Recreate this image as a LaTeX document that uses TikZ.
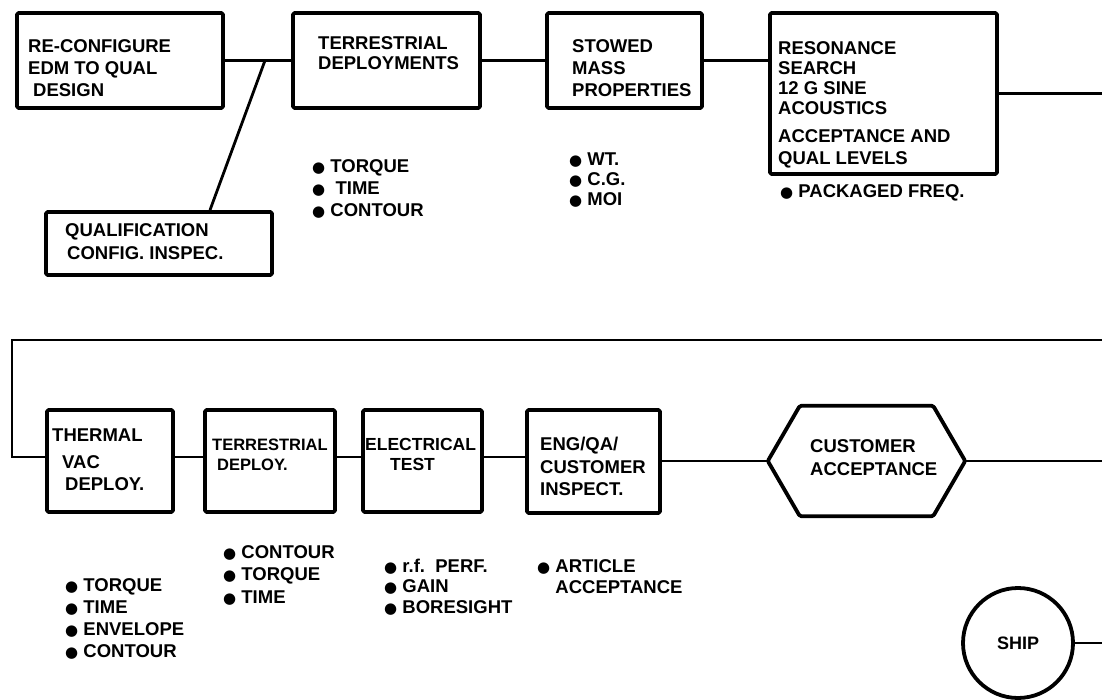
\documentclass[tikz,border=0pt]{standalone}
\usepackage{fontspec}
\setmainfont{Liberation Sans}
\newfontfamily\dvsfont{DejaVu Sans}
\newcommand\bul{{\dvsfont\fontsize{15}{15}\selectfont ●}}
\begin{document}
\begin{tikzpicture}[x=1pt,y=-1pt,
  box/.style={draw, line width=3.8pt, inner sep=0pt, rounded corners=1.5pt, line join=round},
  conn/.style={line width=2.8pt},
  txt/.style={font=\bfseries\fontsize{18.5}{22}\selectfont, align=left, inner sep=0pt, anchor=base west},
  smalltxt/.style={txt, font=\bfseries\fontsize{16.5}{20}\selectfont},
]
\useasboundingbox (0,0) rectangle (1102,700);
% boxes
\node[box, minimum width=206pt, minimum height=95pt] (b1) at (120,60.5) {};
\node[box, minimum width=187pt, minimum height=95pt] (b2) at (386.5,60.5) {};
\node[box, minimum width=155pt, minimum height=95pt] (b3) at (624.5,60.5) {};
\node[box, minimum width=227pt, minimum height=161pt] (b4) at (883.5,93.5) {};
\node[box, minimum width=226pt, minimum height=63pt] (q) at (159,243.5) {};
\node[box, minimum width=126pt, minimum height=102pt] (tv) at (110,461) {};
\node[box, minimum width=130pt, minimum height=102pt] (td) at (270,461) {};
\node[box, minimum width=119pt, minimum height=102pt] (et) at (422.5,461) {};
\node[box, minimum width=133pt, minimum height=103pt] (eq) at (593.5,461.5) {};
\node[minimum width=197pt, minimum height=110pt, inner sep=0pt] (hx) at (866.5,461) {};
\draw[box] (hx.west) -- ([xshift=32pt]hx.north west) -- ([xshift=-32pt]hx.north east) -- (hx.east) -- ([xshift=-32pt]hx.south east) -- ([xshift=32pt]hx.south west) -- cycle;
\node[box, circle, minimum size=110pt, font=\bfseries\fontsize{18}{22}\selectfont] (sh) at (1018,643) {SHIP};
% coordinates
\coordinate (j) at (265,60.5);
\coordinate (r1) at (1102,93.5);
\coordinate (r2) at (1102,340);
\coordinate (l1) at (12,340);
\coordinate (l2) at (12,457);
\coordinate (row) at (0,457);
\coordinate (r3) at (1102,461);
\coordinate (r4) at (1102,643);
% connectors
\draw[conn] (b1) -- (b2);
\draw[conn] (b2) -- (b3);
\draw[conn] (b3.east) -- (b3.east -| b4.west);
\draw[conn] (j) -- ([xshift=51pt]q.north);
\draw[conn] (b4.east) -- (r1);
\draw[conn, line join=miter] (r2) -- (l1) -- (l2) -- (l2 -| tv.west);
\draw[conn] (tv.east |- row) -- (td.west |- row);
\draw[conn] (td.east |- row) -- (et.west |- row);
\draw[conn] (et.east |- row) -- (eq.west |- row);
\draw[conn] (eq.east |- hx.west) -- (hx.west);
\draw[conn] (hx.east) -- (r3);
\draw[conn] (sh.east) -- (r4);
% box texts (anchored at the baseline of the last line)
\node[txt] (t1) at (28,97) {RE-CONFIGURE\\EDM TO QUAL\\\hspace*{5pt}DESIGN};
\node[txt] (t2) at (318,70) {TERRESTRIAL\\[-2pt]DEPLOYMENTS};
\node[txt] (t3) at (572,97) {STOWED\\MASS\\PROPERTIES};
\node[txt] (t4) at (778,165) {RESONANCE\\[-2pt]SEARCH\\[-2pt]12 G SINE\\[-2pt]ACOUSTICS\\[6pt]ACCEPTANCE AND\\QUAL LEVELS};
\node[txt] (t5) at (65,260) {QUALIFICATION\\[1pt]\hspace*{2pt}CONFIG. INSPEC.};
\node[txt] (t6) at (52,490) {THERMAL\\[5pt]\hspace*{10pt}VAC\\\hspace*{13pt}DEPLOY.};
\node[smalltxt] (t7) at (212,470) {TERRESTRIAL\\\hspace*{5pt}DEPLOY.};
\node[txt, font=\bfseries\fontsize{17.5}{22}\selectfont] (t8) at (365,470) {ELECTRICAL\\[-2pt]\hspace*{25pt}TEST};
\node[txt] (t9) at (540,495) {ENG/QA/\\[1pt]CUSTOMER\\INSPECT.};
\node[txt] (t10) at (810,475) {CUSTOMER\\[1pt]ACCEPTANCE};
% bullet lists
\node[txt] (l2b) at (312,217) {\bul\ TORQUE\\\bul\ \ TIME\\\bul\ CONTOUR};
\node[txt] (l3b) at (569,206) {\bul\ WT.\\[-2pt]\bul\ C.G.\\[-2pt]\bul\ MOI};
\node[txt] (l4b) at (780,198) {\bul\ PACKAGED FREQ.};
\node[txt] (l5b) at (65,657) {\bul\ TORQUE\\[-0.3pt]\bul\ TIME\\[-0.3pt]\bul\ ENVELOPE\\[-0.3pt]\bul\ CONTOUR};
\node[txt] (l6b) at (223,603) {\bul\ CONTOUR\\[0.5pt]\bul\ TORQUE\\[0.5pt]\bul\ TIME};
\node[txt] (l7b) at (384,613) {\bul\ r.f.\ \ PERF.\\[-2pt]\bul\ GAIN\\[-1pt]\bul\ BORESIGHT};
\node[txt] (l8b) at (537,593) {\bul\ ARTICLE\\[-1pt]\phantom{\bul\ }ACCEPTANCE};
\end{tikzpicture}
\end{document}
